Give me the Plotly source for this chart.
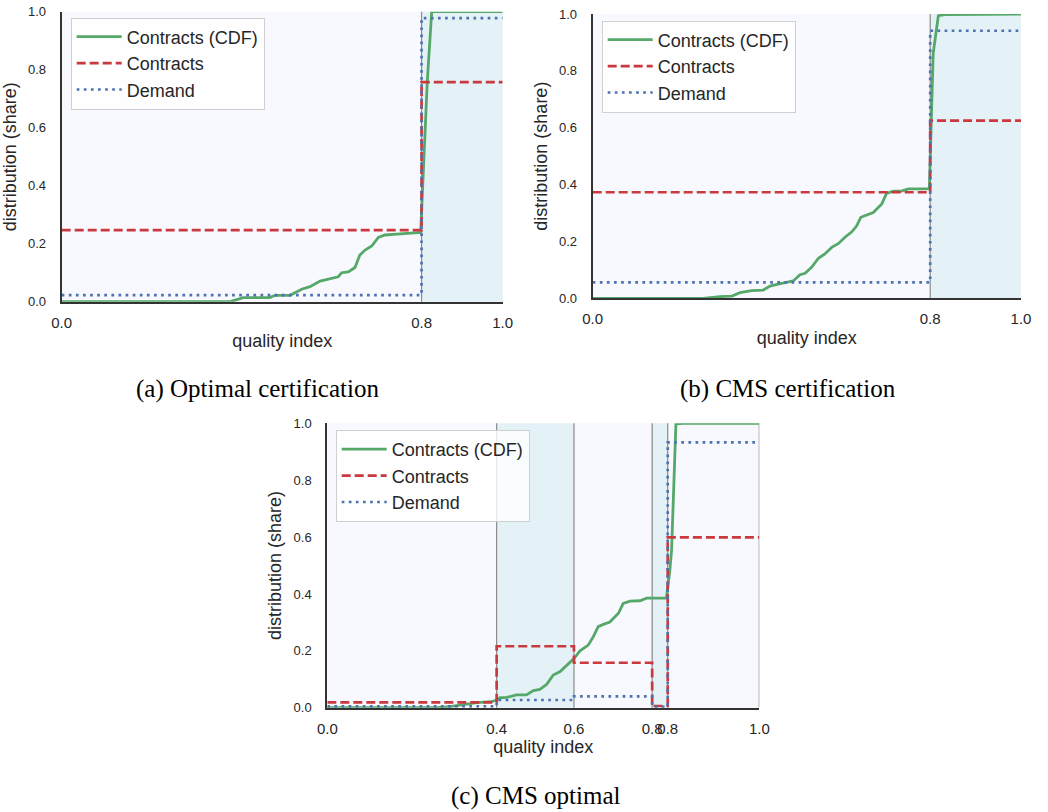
import plotly.graph_objects as go

# ---------------- data ----------------
# Panel (a) Optimal certification
a_cdf_x = [0.0, 0.382, 0.412, 0.472, 0.484, 0.518, 0.544, 0.563, 0.586, 0.608, 0.627, 0.635, 0.650,
           0.665, 0.676, 0.688, 0.703, 0.718, 0.733, 0.760, 0.786, 0.814, 0.829, 0.839, 1.0]
a_cdf_y = [0.0, 0.0, 0.014, 0.014, 0.022, 0.022, 0.043, 0.052, 0.071, 0.080, 0.086, 0.100, 0.103,
           0.118, 0.161, 0.178, 0.192, 0.222, 0.230, 0.233, 0.236, 0.239, 0.760, 1.0, 1.0]
a_cuts = [0.816]
a_contracts = [0.247, 0.757]
a_demand = [0.023, 0.978]
a_shade = [(0.816, 1.0)]
a_vlines = [0.816]
a_ticks = [0.0, 0.816, 1.0]

# Panel (b) CMS certification
b_cdf_x = [0.0, 0.258, 0.297, 0.325, 0.344, 0.371, 0.398, 0.414, 0.433, 0.453, 0.468, 0.484, 0.496,
           0.511, 0.527, 0.542, 0.558, 0.574, 0.589, 0.605, 0.616, 0.626, 0.640, 0.655, 0.675, 0.686,
           0.702, 0.721, 0.737, 0.786, 0.795, 0.807, 0.823, 1.0]
b_cdf_y = [0.0, 0.0, 0.006, 0.008, 0.020, 0.027, 0.029, 0.043, 0.050, 0.055, 0.061, 0.083, 0.088,
           0.109, 0.141, 0.156, 0.179, 0.193, 0.215, 0.234, 0.254, 0.285, 0.293, 0.302, 0.332, 0.369,
           0.377, 0.377, 0.385, 0.385, 0.862, 0.994, 0.998, 1.0]
b_cuts = [0.788]
b_contracts = [0.373, 0.625]
b_demand = [0.056, 0.941]
b_shade = [(0.788, 1.0)]
b_vlines = [0.788]
b_ticks = [0.0, 0.788, 1.0]

# Panel (c) CMS optimal
c_cdf_x = [0.0, 0.253, 0.284, 0.315, 0.346, 0.380, 0.392, 0.400, 0.415, 0.438, 0.461, 0.477, 0.492,
           0.508, 0.523, 0.539, 0.558, 0.571, 0.585, 0.604, 0.616, 0.627, 0.639, 0.654, 0.674, 0.685,
           0.701, 0.724, 0.739, 0.785, 0.793, 0.797, 0.807, 0.824, 1.0]
c_cdf_y = [0.0, 0.0, 0.004, 0.011, 0.018, 0.021, 0.027, 0.035, 0.036, 0.045, 0.045, 0.060, 0.064,
           0.082, 0.115, 0.127, 0.154, 0.173, 0.200, 0.220, 0.250, 0.285, 0.293, 0.301, 0.332, 0.367,
           0.375, 0.376, 0.385, 0.385, 0.484, 0.555, 0.998, 1.0, 1.0]
c_cuts = [0.392, 0.571, 0.752, 0.788]
c_contracts = [0.019, 0.216, 0.158, 0.006, 0.599]
c_demand = [0.005, 0.027, 0.040, 0.003, 0.933]
c_shade = [(0.392, 0.571), (0.752, 0.788)]
c_vlines = [0.392, 0.571, 0.752, 0.788, 1.0]
c_ticks = [0.0, 0.392, 0.571, 0.752, 0.788, 1.0]

y_ticks = [0.0, 0.2, 0.4, 0.6, 0.8, 1.0]
captions = ["(a) Optimal certification", "(b) CMS certification", "(c) CMS optimal"]

# ---------------- styling ----------------
GREEN = "#55a868"
RED = "#c9393e"
BLUE = "#4c72b0"
BG = "#f8f8ff"
SHADE = "#e4f2f7"
SANS = "Liberation Sans, Arial, sans-serif"
SERIF = "Liberation Serif, Times New Roman, serif"

W, H = 1048, 812
# plot areas in pixels: (left, right, top, bottom)
boxes = [(61.7, 502.7, 11.7, 301.7),
         (592.7, 1021.0, 14.0, 298.3),
         (327.3, 759.3, 423.3, 707.7)]
legend_pos = [(70.7, 17.5), (601.7, 20.5), (335.7, 430.0)]
caption_pos = [(257, 389), (788, 389), (535, 796)]

panels = [
    (a_cdf_x, a_cdf_y, a_cuts, a_contracts, a_demand, a_shade, a_vlines, a_ticks),
    (b_cdf_x, b_cdf_y, b_cuts, b_contracts, b_demand, b_shade, b_vlines, b_ticks),
    (c_cdf_x, c_cdf_y, c_cuts, c_contracts, c_demand, c_shade, c_vlines, c_ticks),
]

fig = go.Figure()
layout = dict(
    width=W, height=H, autosize=False,
    margin=dict(l=0, r=0, t=0, b=0),
    paper_bgcolor="white", plot_bgcolor=BG,
    font=dict(family=SANS, color="#262626"),
    shapes=[], annotations=[],
)

for i, (cx, cy, cuts, contracts, demand, shade, vlines, xt) in enumerate(panels):
    sfx = "" if i == 0 else str(i + 1)
    xa, ya = "x" + sfx, "y" + sfx
    lg = "legend" + sfx
    step_x = [0.0] + cuts + [1.0]
    fig.add_trace(go.Scatter(x=cx, y=cy, mode="lines", name="Contracts (CDF)",
                             line=dict(color=GREEN, width=2.8), xaxis=xa, yaxis=ya, legend=lg))
    fig.add_trace(go.Scatter(x=step_x, y=contracts + [contracts[-1]], mode="lines", name="Contracts",
                             line=dict(color=RED, width=2.7, dash="9px,4px", shape="hv"),
                             xaxis=xa, yaxis=ya, legend=lg))
    fig.add_trace(go.Scatter(x=step_x, y=demand + [demand[-1]], mode="lines", name="Demand",
                             line=dict(color=BLUE, width=2.7, dash="2.7px,4.4px", shape="hv"),
                             xaxis=xa, yaxis=ya, legend=lg))

    l, r, t, b = boxes[i]
    layout["xaxis" + sfx] = dict(
        domain=[l / W, r / W], anchor=ya, range=[0, 1], automargin=False,
        showgrid=False, zeroline=False, showline=True, linecolor="#333333", linewidth=2,
        tickvals=xt, ticktext=[f"{v:.1f}" for v in xt], ticks="", tickangle=0,
        tickfont=dict(size=15, color="#262626"), ticklabelstandoff=6,
        title=dict(text="quality index", font=dict(size=18, color="#262626"), standoff=5),
    )
    layout["yaxis" + sfx] = dict(
        domain=[1 - b / H, 1 - t / H], anchor=xa, range=[0, 1], automargin=False,
        showgrid=False, zeroline=False, showline=True, linecolor="#333333", linewidth=2,
        tickvals=y_ticks, ticktext=[f"{v:.1f}" for v in y_ticks], ticks="",
        tickfont=dict(size=13, color="#262626"), ticklabelstandoff=11,
        title=dict(text="distribution (share)", font=dict(size=18, color="#262626"), standoff=7),
    )
    for (s0, s1) in shade:
        layout["shapes"].append(dict(type="rect", xref=xa, yref=ya + " domain", x0=s0, x1=s1, y0=0, y1=1,
                                     fillcolor=SHADE, line=dict(width=0), layer="below"))
    for v in vlines:
        layout["shapes"].append(dict(type="line", xref=xa, yref=ya + " domain", x0=v, x1=v, y0=0, y1=1,
                                     line=dict(color="#8a8a8a", width=1.2), layer="below"))
    lx, ly = legend_pos[i]
    layout[lg] = dict(x=lx / W, y=1 - ly / H, xanchor="left", yanchor="top",
                      bgcolor="rgba(255,255,255,0.8)", bordercolor="#d0d0d0", borderwidth=1,
                      itemwidth=45, tracegroupgap=0,
                      font=dict(size=18, family=SANS, color="#262626"))
    cxp, cyp = caption_pos[i]
    layout["annotations"].append(dict(text=captions[i], xref="paper", yref="paper",
                                      x=cxp / W, y=1 - cyp / H, xanchor="center", yanchor="middle",
                                      showarrow=False, font=dict(family=SERIF, size=25, color="black")))

fig.update_layout(**layout)
fig.write_html("out.html")
